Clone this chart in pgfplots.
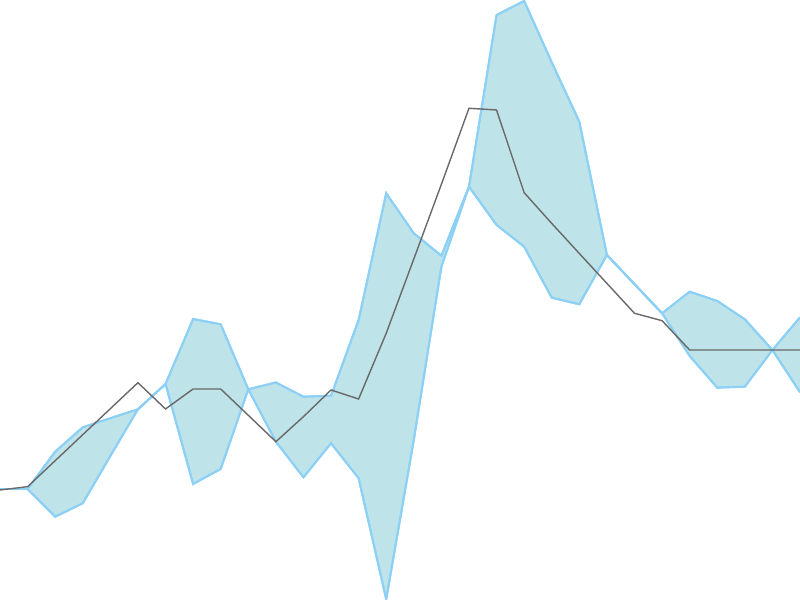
\documentclass[border=0pt]{standalone}
\usepackage{pgfplots}
\pgfplotsset{compat=1.18}
\usepackage{pgfplotstable}
\usepgfplotslibrary{fillbetween}
\definecolor{bandfill}{RGB}{190,228,233}
\definecolor{bandline}{RGB}{140,208,246}
\definecolor{midline}{RGB}{105,105,105}

% x index, upper edge, lower edge, middle line
\pgfplotstableread{
x  hi     lo     mid
0  111.0  111.0  110.0
1  111.0  111.0  113.3
2  148.3  83.3   139.3
3  172.7  96.7   165.3
4  181.8  144.0  191.3
5  190.7  190.7  217.3
6  216.0  216.0  191.0
7  281.0  116.0  211.0
8  275.7  131.0  211.0
9  210.7  210.7  184.7
10 217.5  158.3  158.3
11 203.3  122.7  183.3
12 204.3  156.7  210.0
13 280.0  121.7  201.0
14 406.7  0.7    266.7
15 366.7  160.0  341.0
16 344.3  333.3  415.7
17 413.3  413.3  491.7
18 585.0  375.0  490.0
19 599.0  353.3  407.3
20 537.7  302.3  376.6
21 478.3  295.7  346.5
22 345.0  345.0  316.6
23 315.8  315.8  286.7
24 286.7  286.7  279.3
25 308.3  244.0  250.0
26 299.0  212.3  250.0
27 280.7  213.3  250.0
28 250.0  250.0  250.0
29 282.7  207.7  250.0
}\datatab

\begin{document}
\begin{tikzpicture}
\begin{axis}[
  width=10cm, height=7.5cm,
  scale only axis,
  xmin=0, xmax=29, ymin=0, ymax=600,
  hide axis,
]
\addplot[name path=hi, bandline, line width=0.7pt] table[x=x, y=hi] {\datatab};
\addplot[name path=lo, bandline, line width=0.7pt] table[x=x, y=lo] {\datatab};
\addplot[bandfill] fill between[of=hi and lo];
\addplot[bandline, line width=0.7pt] table[x=x, y=hi] {\datatab};
\addplot[bandline, line width=0.7pt] table[x=x, y=lo] {\datatab};
\addplot[midline, line width=0.5pt] table[x=x, y=mid] {\datatab};
\end{axis}
\pgfresetboundingbox
\useasboundingbox (current axis.south west) rectangle (current axis.north east);
\end{tikzpicture}
\end{document}
